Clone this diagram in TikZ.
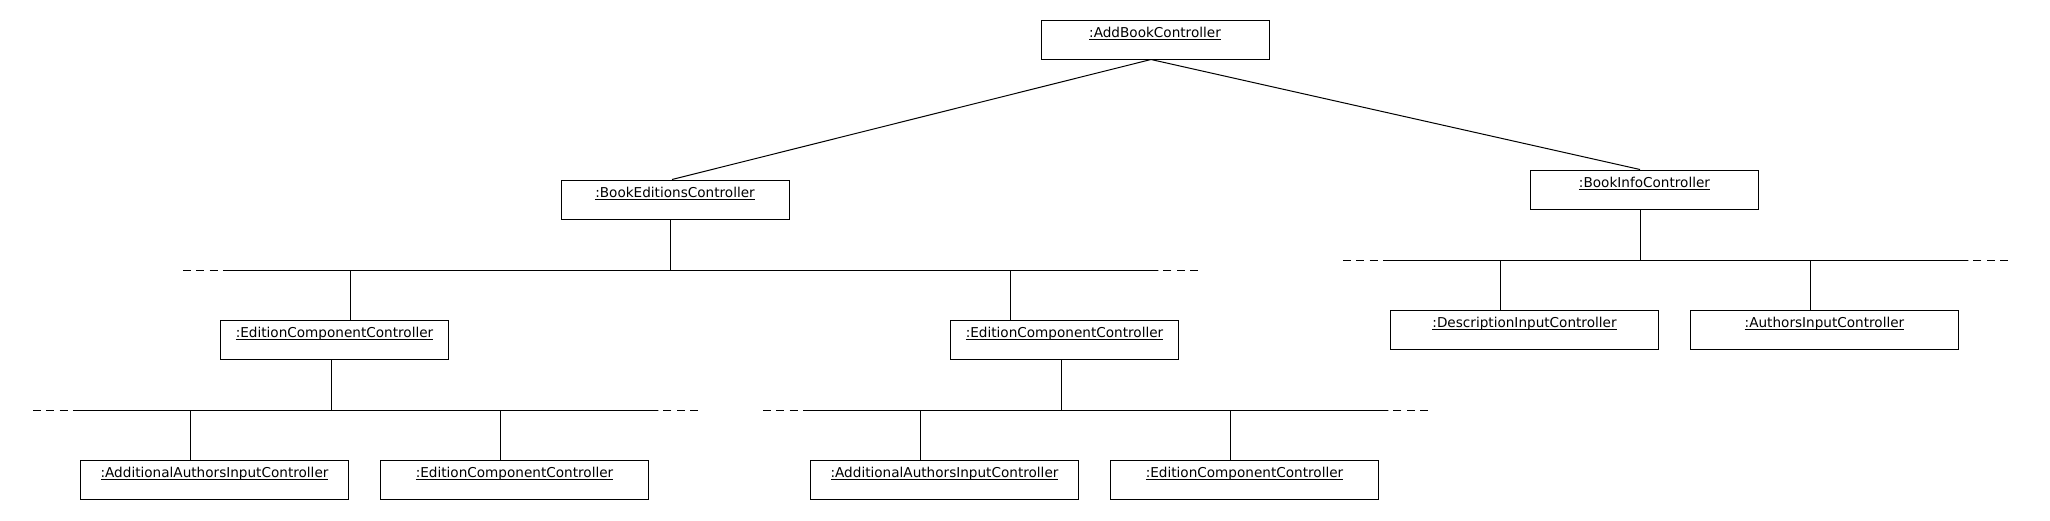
\documentclass[tikz,border=0pt]{standalone}
\usepackage{fontspec}
\setmainfont{DejaVu Sans}
\newcommand{\objname}[1]{\setbox0\hbox{#1}\rlap{\rule[-2.4pt]{\wd0}{0.9pt}}\box0}

\begin{document}
\begin{tikzpicture}[x=1pt, y=-1pt, line width=1pt,
	obj/.style={draw, rectangle, inner sep=0pt, minimum width=228pt,
		text height=17pt, text depth=22pt, font=\fontsize{13.6}{16}\selectfont},
	objwide/.style={obj, minimum width=268pt},
	dashes/.style={dash pattern=on 8pt off 5.33pt}]
	\useasboundingbox (0,0) rectangle (2050,520);

	% Define top controllers
	\node[obj] (AddBook) at (1155,39.5) {\objname{:AddBookController}};
	\node[obj] (BookEditions) at (675,199.5) {\objname{:BookEditionsController}};
	\node[obj] (BookInfo) at (1644.5,189.5) {\objname{:BookInfoController}};

	\draw ([xshift=-4pt]AddBook.south) -- ([xshift=-3pt]BookEditions.north);
	\draw ([xshift=-4pt]AddBook.south) -- ([xshift=-4.5pt]BookInfo.north);

	% Define editions bar
	\coordinate (BarEdStart) at (183,270);
	\coordinate (BarEdA) at (223,270);
	\coordinate (BarEdB) at (1158,270);
	\coordinate (BarEdEnd) at (1198,270);
	\node[obj] (EditionL) at (334.5,339.5) {\objname{:EditionComponentController}};
	\node[obj] (EditionR) at (1064.5,339.5) {\objname{:EditionComponentController}};

	\draw[dashes] (BarEdStart) -- (BarEdA);
	\draw (BarEdA) -- (BarEdB);
	\draw[dashes] (BarEdEnd) -- (BarEdB);
	\draw ([xshift=-5pt]BookEditions.south) -- ([xshift=-5pt]BookEditions.south |- BarEdA);
	\draw ([xshift=15.5pt]EditionL.north) -- ([xshift=15.5pt]EditionL.north |- BarEdA);
	\draw ([xshift=-54.5pt]EditionR.north) -- ([xshift=-54.5pt]EditionR.north |- BarEdA);

	% Define left edition bar
	\coordinate (BarLStart) at (33,410);
	\coordinate (BarLA) at (73,410);
	\coordinate (BarLB) at (658,410);
	\coordinate (BarLEnd) at (698,410);
	\node[objwide] (AddAuthorsL) at (214.5,479.5) {\objname{:AdditionalAuthorsInputController}};
	\node[objwide] (EditionLL) at (514.5,479.5) {\objname{:EditionComponentController}};

	\draw[dashes] (BarLStart) -- (BarLA);
	\draw (BarLA) -- (BarLB);
	\draw[dashes] (BarLEnd) -- (BarLB);
	\draw ([xshift=-3.5pt]EditionL.south) -- ([xshift=-3.5pt]EditionL.south |- BarLA);
	\draw ([xshift=-24.5pt]AddAuthorsL.north) -- ([xshift=-24.5pt]AddAuthorsL.north |- BarLA);
	\draw ([xshift=-14.5pt]EditionLL.north) -- ([xshift=-14.5pt]EditionLL.north |- BarLA);

	% Define right edition bar
	\coordinate (BarRStart) at (763,410);
	\coordinate (BarRA) at (803,410);
	\coordinate (BarRB) at (1388,410);
	\coordinate (BarREnd) at (1428,410);
	\node[objwide] (AddAuthorsR) at (944.5,479.5) {\objname{:AdditionalAuthorsInputController}};
	\node[objwide] (EditionRR) at (1244.5,479.5) {\objname{:EditionComponentController}};

	\draw[dashes] (BarRStart) -- (BarRA);
	\draw (BarRA) -- (BarRB);
	\draw[dashes] (BarREnd) -- (BarRB);
	\draw ([xshift=-3.5pt]EditionR.south) -- ([xshift=-3.5pt]EditionR.south |- BarRA);
	\draw ([xshift=-24.5pt]AddAuthorsR.north) -- ([xshift=-24.5pt]AddAuthorsR.north |- BarRA);
	\draw ([xshift=-14.5pt]EditionRR.north) -- ([xshift=-14.5pt]EditionRR.north |- BarRA);

	% Define info bar
	\coordinate (BarInfoStart) at (1343,260);
	\coordinate (BarInfoA) at (1383,260);
	\coordinate (BarInfoB) at (1968,260);
	\coordinate (BarInfoEnd) at (2008,260);
	\node[objwide] (Description) at (1524.5,329.5) {\objname{:DescriptionInputController}};
	\node[objwide] (Authors) at (1824.5,329.5) {\objname{:AuthorsInputController}};

	\draw[dashes] (BarInfoStart) -- (BarInfoA);
	\draw (BarInfoA) -- (BarInfoB);
	\draw[dashes] (BarInfoEnd) -- (BarInfoB);
	\draw ([xshift=-4.5pt]BookInfo.south) -- ([xshift=-4.5pt]BookInfo.south |- BarInfoA);
	\draw ([xshift=-24.5pt]Description.north) -- ([xshift=-24.5pt]Description.north |- BarInfoA);
	\draw ([xshift=-14.5pt]Authors.north) -- ([xshift=-14.5pt]Authors.north |- BarInfoA);
\end{tikzpicture}
\end{document}
